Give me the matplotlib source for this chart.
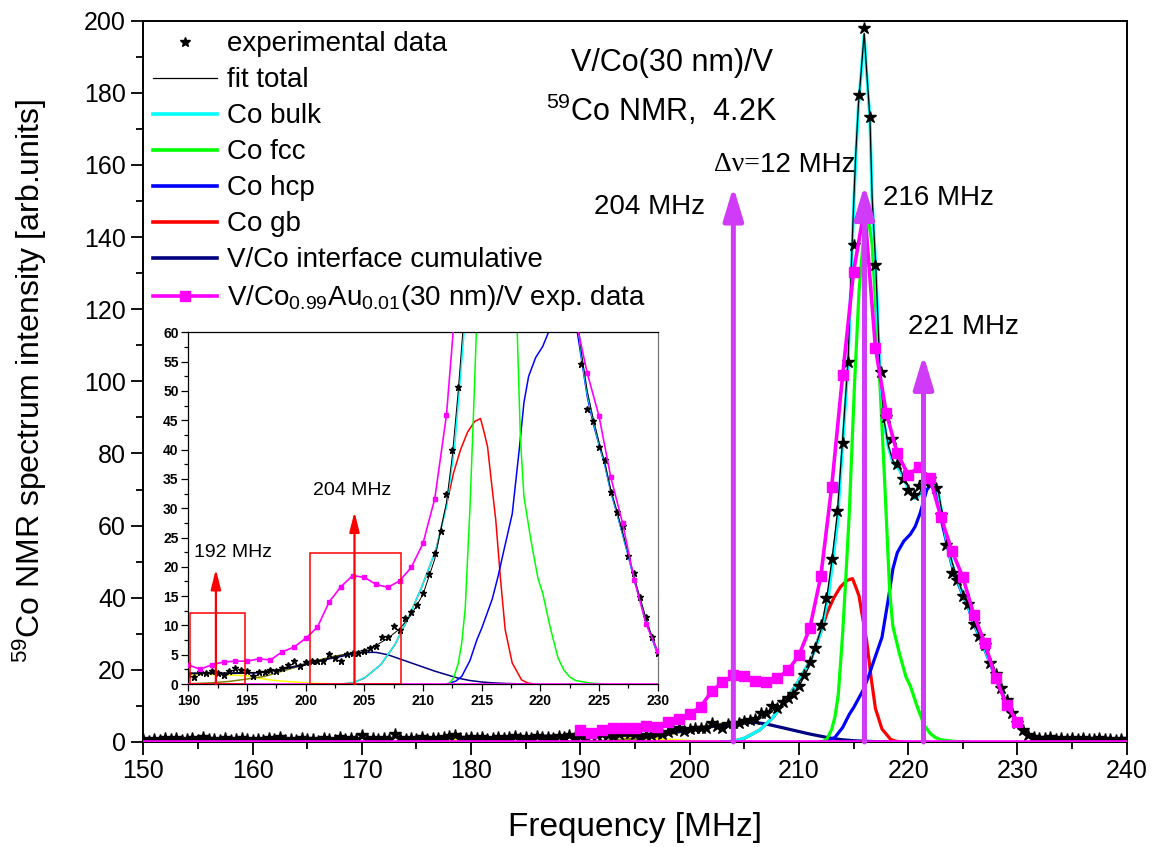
import matplotlib
matplotlib.use('Agg')
import matplotlib.pyplot as plt
from matplotlib.lines import Line2D
from matplotlib.patches import Rectangle
from matplotlib.ticker import MultipleLocator
import numpy as np

plt.rcParams['font.family'] = ['Liberation Sans', 'DejaVu Sans']
plt.rcParams['mathtext.default'] = 'regular'

# ---- data ----
# experimental V/Co(30 nm)/V spectrum, 0.5 MHz steps from 150 to 240 MHz
exp_freq = np.arange(150, 240.5, 0.5)
exp_val = [0.8, 0.4, 0.9, 0.6, 1.2, 0.7, 1.0, 0.5, 0.8, 1.1,
           0.6, 1.4, 0.7, 0.9, 0.5, 1.0, 0.6, 0.8, 1.2, 0.7,
           0.5, 0.9, 0.6, 1.0, 0.7, 1.3, 0.5, 0.8, 0.6, 1.1,
           0.7, 0.9, 0.4, 1.0, 0.8, 0.6, 1.3, 0.7, 1.0, 0.8,
           1.9, 0.9, 1.1, 0.7, 1.2, 0.9, 2.2, 1.0, 0.8, 1.2,
           0.9, 1.4, 0.8, 1.1, 1.0, 1.3, 1.6, 1.9, 1.2, 1.0,
           1.5, 1.1, 1.3, 0.9, 1.2, 1.5, 1.0, 1.3, 1.6, 1.1,
           1.4, 1.2, 1.7, 1.3, 1.5, 1.1, 1.6, 1.4, 1.8, 1.3,
           1.7, 1.2, 2.0, 1.8, 2.3, 1.9, 1.6, 2.3, 2.7, 2.4,
           2.2, 1.3, 2.0, 2.0, 2.4, 2.2, 2.8, 3.2, 4.0, 3.0,
           3.7, 3.9, 3.9, 4.0, 5.2, 4.5, 4.0, 5.1, 5.3, 5.3,
           5.7, 6.1, 6.5, 8.1, 8.1, 9.9, 9.3, 11.2, 12.3, 13.4,
           15.6, 18.7, 22.3, 26.1, 32.5, 39.9,
           50.7, 64, 83, 105.4, 137.8, 179.3, 198.1, 173.4, 132.2, 102.5,
           90.2, 84, 77, 73, 69.9, 68.5, 71, 72, 73, 70.5,
           63, 54.6, 46.9, 44.9, 40.4, 38.2, 32.8, 29.3, 27.0, 21.9,
           18.9, 14.9, 11.5, 8.1, 5.3, 3.2, 2.0, 1.5, 1.2, 1.0,
           1.3, 0.9, 1.1, 0.8, 1.0, 0.7, 1.1, 0.9, 0.8, 1.0,
           0.7, 0.9, 0.6, 0.8, 0.7]

fit_freq = [185, 190, 193, 196, 198, 200, 202, 203, 204, 205, 206, 207, 208, 209, 210,
            211, 212, 212.5, 213, 213.5, 214, 214.5, 214.87, 215.02, 215.2, 215.45, 215.7,
            215.97, 216.2, 216.5, 216.7, 217.03, 217.4, 217.8, 218.2, 218.6, 219.2, 219.6,
            220.1, 220.6, 221, 221.6, 222.2, 222.7, 223.2, 223.5, 224, 224.5, 225, 225.5,
            226, 226.5, 227, 227.5, 228, 228.5, 229, 229.5, 230, 231, 232, 233, 234]
fit_val = [1.6, 1.9, 1.9, 2.0, 2.6, 3.5, 4.4, 4.9, 5.3, 5.8, 6.6, 7.8, 9.4, 11.8, 15.3,
           21.3, 31, 39, 50, 63, 84, 106, 138, 150, 163, 177, 186,
           196.5, 186, 173, 151, 132, 104, 89, 82, 78, 76, 73.5,
           70, 68, 69, 72, 73, 70.5, 62, 56.5, 50, 45.3, 41.3, 37.8,
           33.2, 29.7, 26, 22.2, 18.2, 14.7, 11.2, 8.2, 5.5, 2.4, 1.0, 0.45, 0.2]

bulk_freq = [203, 204.1, 205.2, 206.4, 207.6, 208.8, 209.9, 211.1, 212.0, 212.7,
             213.5, 214, 214.5, 214.87, 215.02, 215.2, 215.45, 215.7, 215.97, 216.2,
             216.5, 216.7, 217.03, 217.4, 217.8, 218.2, 218.6, 219.2, 219.6, 220.1,
             220.6, 221, 221.6, 222.2, 222.7, 223.2, 223.5, 224, 224.5, 225,
             225.5, 226, 226.5, 227, 227.5, 228, 228.5, 229, 229.5, 230,
             231, 232, 233, 234]
bulk_val = [0, 0.2, 1.3, 3.3, 6.7, 11.5, 16.6, 22.9, 30.3, 40.5,
            60, 82.5, 105, 137, 149, 162, 176.5, 185.5, 196, 185.5,
            172.5, 150.5, 131.5, 103.5, 88.5, 81.5, 77.5, 75.5, 73, 69.5,
            67.5, 68.5, 71.5, 72.5, 70, 61.5, 56, 49.5, 45, 41,
            37.5, 33, 29.5, 25.8, 22, 18, 14.5, 11, 8, 5.3,
            2.2, 0.9, 0.4, 0.15]

fcc_freq = [212.2, 212.6, 213.0, 213.3, 213.6, 214.0, 214.3, 214.6, 215.1, 215.5,
            216.0, 216.3, 216.7, 217.0, 217.4, 217.85, 218.3, 218.6, 219.2, 219.8,
            220.2, 220.8, 221.1, 221.5, 222.0, 222.5, 223.0, 224.3, 225.5]
fcc_val = [0, 1, 3.5, 7, 13, 30, 46, 63, 100, 125,
           143, 146, 138, 122, 100, 72, 42, 32, 24.5, 18,
           15.5, 10, 7.6, 4.5, 2.4, 1.2, 0.6, 0.15, 0]

hcp_freq = [212.0, 212.8, 213.3, 214.0, 214.6, 215.0, 215.9, 216.4, 216.8, 217.6,
            218.2, 218.6, 219.0, 219.6, 220.2, 220.65, 221.1, 221.7, 222.2, 222.6,
            223.0, 223.5, 224, 224.5, 225, 225.5, 226, 226.5, 227, 227.5,
            228, 228.5, 229, 229.5, 230, 231, 232, 233]
hcp_val = [0, 0.5, 1.3, 4, 7.6, 9.5, 14.5, 18.4, 22, 29,
           40, 48, 52.5, 55.7, 57.6, 59.8, 63.5, 69.9, 72, 69.5,
           62, 55.5, 49, 44.5, 40.8, 37.3, 32.8, 29.3, 25.6, 21.8,
           17.8, 14.3, 10.8, 7.8, 5.1, 2.1, 0.8, 0.3]

gb_freq = [203, 204, 205, 206.4, 207.6, 208.8, 209.9, 211.1, 212.0, 212.6,
           213.2, 213.8, 214.4, 214.9, 215.2, 215.5, 215.8, 216.2, 216.6, 217.0,
           217.6, 218.4, 218.9, 219.5]
gb_val = [0, 0.2, 1.0, 3.3, 6.7, 11.5, 16.6, 22.9, 30.5, 36,
          40, 43, 44.8, 45.3, 43, 40.5, 35, 28, 18, 9.3,
          3.6, 0.7, 0.2, 0]

iface_freq = [185, 188, 190, 193, 196, 198, 200, 202, 204, 205, 206, 207, 208,
              209, 210, 211, 212, 213, 214, 215, 216, 217, 219]
iface_val = [1.4, 1.7, 1.8, 1.8, 1.9, 2.5, 3.3, 4.3, 5.1, 5.4, 5.4, 5.0, 4.3,
             3.6, 2.9, 2.2, 1.6, 1.0, 0.6, 0.35, 0.2, 0.1, 0]

yellow_freq = [175, 180, 185, 188, 190, 192, 194, 195, 196, 197, 198, 199, 200, 201, 202, 204]
yellow_val = [0.2, 0.6, 1.1, 1.4, 1.6, 1.6, 1.5, 1.4, 1.0, 0.7, 0.5, 0.35, 0.2, 0.1, 0.05, 0]

olive_freq = [188, 190, 192, 193.5, 195, 196.5, 198, 199.4, 200.8, 202.3, 203.5, 204.5]
olive_val = [0, 0.05, 0.2, 0.45, 0.85, 1.3, 2.2, 3.0, 3.9, 4.7, 5.1, 5.3]

# V/Co0.99Au0.01(30 nm)/V, 1 MHz steps from 190 to 230 MHz
au_freq = np.arange(190, 231, 1)
au_val = [3.3, 2.5, 3.3, 3.75, 3.9, 3.9, 4.3, 4.1, 5.5, 6.3,
          7.8, 9.7, 14.0, 16.6, 18.5, 18.2, 17.0, 16.5, 17.6, 19.9,
          24.0, 31.6, 45.9, 70.8, 101.7, 130.4, 148.0, 109.3, 91.1, 80.0,
          74.1, 76.2, 73.1, 62.3, 53.0, 45.7, 35.3, 27.5, 17.8, 10.3,
          5.6]

# marked lines: (frequency, arrow top)
main_marks = [(204, 154), (216, 154.4), (221.4, 107.3)]
inset_marks = [(192.35, 19.6), (204.16, 29.4)]
inset_boxes = [(190.15, 194.84, 12.2), (200.35, 208.1, 22.3)]

# ---- colours ----
c_bulk = '#00FFFF'
c_fcc = '#00FF00'
c_hcp = '#0000FF'
c_gb = '#FF0000'
c_iface = '#000080'
c_au = '#FF00FF'
c_arrow = '#CF3BF7'

fig = plt.figure(figsize=(11.61, 8.47), dpi=100)
ax = fig.add_axes([0.1234, 0.1240, 0.8471, 0.8516])


def draw_curves(a, lw, fit_lw, star_ms, sq_ms, au_lw):
    a.plot(yellow_freq, yellow_val, color='#FFFF00', lw=lw, zorder=2)
    a.plot(olive_freq, olive_val, color='#808000', lw=lw, zorder=2)
    a.plot(iface_freq, iface_val, color=c_iface, lw=lw, zorder=2.1)
    a.plot(gb_freq, gb_val, color=c_gb, lw=lw, zorder=2.2)
    a.plot(hcp_freq, hcp_val, color=c_hcp, lw=lw, zorder=2.3)
    a.plot(fcc_freq, fcc_val, color=c_fcc, lw=lw, zorder=2.4)
    a.plot(bulk_freq, bulk_val, color=c_bulk, lw=lw, zorder=2.5)
    a.plot(fit_freq, fit_val, color='black', lw=fit_lw, zorder=2.6)
    a.plot(exp_freq, exp_val, ls='none', marker='*', color='black', ms=star_ms, zorder=3)
    a.plot([150, 240], [0, 0], color=c_au, lw=au_lw, zorder=3.1)
    a.plot(au_freq, au_val, color=c_au, lw=au_lw, marker='s', ms=sq_ms, zorder=3.5)


draw_curves(ax, 2.3, 0.9, 9, 7, 2.6)

for f, top in main_marks:
    ax.annotate('', xy=(f, top), xytext=(f, 0),
                arrowprops=dict(arrowstyle='-|>,head_length=1.0,head_width=0.3',
                                color=c_arrow, lw=3.6, shrinkA=0, shrinkB=0,
                                mutation_scale=20), zorder=4)

ax.set_xlim(150, 240)
ax.set_ylim(0, 200)
ax.xaxis.set_major_locator(MultipleLocator(10))
ax.xaxis.set_minor_locator(MultipleLocator(5))
ax.yaxis.set_major_locator(MultipleLocator(20))
ax.yaxis.set_minor_locator(MultipleLocator(10))
ax.tick_params(which='major', direction='out', length=9, width=1.3, labelsize=18)
ax.tick_params(which='minor', direction='out', length=5, width=1.3)
for s in ax.spines.values():
    s.set_linewidth(1.4)

ax.set_xlabel('Frequency [MHz]', fontsize=24)
ax.set_ylabel('$^{59}$Co NMR spectrum intensity [arb.units]', fontsize=23)
ax.xaxis.set_label_coords(0.5, -0.119)
ax.xaxis.label.set_va('center')
ax.yaxis.set_label_coords(-0.115, 0.5)
ax.yaxis.label.set_va('center')

ax.text(189.1, 188.3, 'V/Co(30 nm)/V', fontsize=22, ha='left', va='center')
ax.text(186.9, 175, '$^{59}$Co NMR,  4.2K', fontsize=22, ha='left', va='center')
ax.text(196.3, 148.2, '204 MHz', fontsize=20, ha='center', va='center')
ax.text(206.4, 160, 'Δν=', fontsize=20, ha='right', va='center', family='Liberation Serif')
ax.text(206.4, 160, '12 MHz', fontsize=20, ha='left', va='center')
ax.text(222.8, 150.8, '216 MHz', fontsize=20, ha='center', va='center')
ax.text(225.1, 115, '221 MHz', fontsize=20, ha='center', va='center')

handles = [
    Line2D([], [], ls='none', marker='*', color='black', ms=7),
    Line2D([], [], color='black', lw=0.9),
    Line2D([], [], color=c_bulk, lw=2.6),
    Line2D([], [], color=c_fcc, lw=2.6),
    Line2D([], [], color=c_hcp, lw=2.6),
    Line2D([], [], color=c_gb, lw=2.6),
    Line2D([], [], color=c_iface, lw=2.6),
    Line2D([], [], color=c_au, lw=2.6, marker='s', ms=7),
]
labels = ['experimental data', 'fit total', 'Co bulk', 'Co fcc', 'Co hcp', 'Co gb',
          'V/Co interface cumulative', 'V/Co$_{0.99}$Au$_{0.01}$(30 nm)/V exp. data']
ax.legend(handles, labels, loc='upper left', bbox_to_anchor=(0.0099, 0.985),
          frameon=False, fontsize=20, handlelength=2.3, handletextpad=0.35,
          labelspacing=0.36, borderpad=0, borderaxespad=0)

# ---- inset ----
ins = fig.add_axes([0.1622, 0.1924, 0.4043, 0.4152])
ins.set_facecolor('white')
draw_curves(ins, 1.1, 0.7, 4.5, 3.2, 1.2)

for f, top in inset_marks:
    ins.annotate('', xy=(f, top), xytext=(f, 0),
                 arrowprops=dict(arrowstyle='-|>,head_length=1.0,head_width=0.25',
                                 color='red', lw=1.6, shrinkA=0, shrinkB=0,
                                 mutation_scale=12), zorder=4)
for x0, x1, h in inset_boxes:
    ins.add_patch(Rectangle((x0, 0), x1 - x0, h, fill=False, edgecolor='red', lw=1.1, zorder=4))

ins.text(193.8, 22.5, '192 MHz', fontsize=14, ha='center', va='center')
ins.text(204.0, 33.0, '204 MHz', fontsize=14, ha='center', va='center')

ins.set_xlim(190, 230)
ins.set_ylim(0, 60)
ins.xaxis.set_major_locator(MultipleLocator(5))
ins.xaxis.set_minor_locator(MultipleLocator(2.5))
ins.yaxis.set_major_locator(MultipleLocator(5))
ins.yaxis.set_minor_locator(MultipleLocator(2.5))
ins.tick_params(which='major', direction='out', length=5, width=0.9, labelsize=10, pad=2)
ins.tick_params(which='minor', direction='out', length=3, width=0.9)
for lab in ins.get_xticklabels() + ins.get_yticklabels():
    lab.set_fontweight('bold')
for s in ins.spines.values():
    s.set_linewidth(0.9)
ins.spines['right'].set_color('#777777')

fig.savefig('out.png', dpi=100)
